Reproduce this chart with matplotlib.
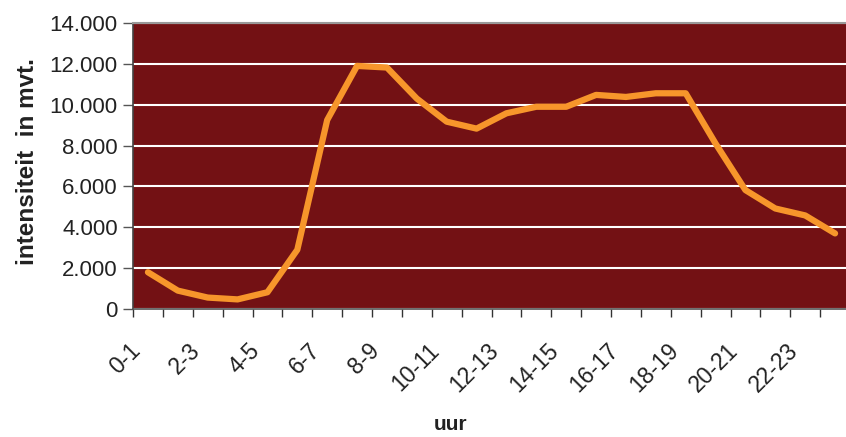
import matplotlib
matplotlib.use("Agg")
import matplotlib.pyplot as plt
from matplotlib.ticker import FuncFormatter, MultipleLocator
from matplotlib.transforms import ScaledTranslation

hours = [f"{h}-{h+1}" for h in range(24)]
values = [1800, 900, 560, 470, 820, 2900, 9250, 11900, 11820, 10300,
          9170, 8830, 9580, 9900, 9900, 10480, 10380, 10560, 10560, 8100,
          5820, 4920, 4580, 3700]
tick_labels = [hours[i] for i in range(0, 24, 2)]

plt.rcParams['font.family'] = ['Liberation Sans', 'DejaVu Sans']

fig = plt.figure(figsize=(8.46, 4.37), dpi=100)
ax = fig.add_axes([133/846, 1-309/437, 717/846, (309-23)/437])
ax.set_facecolor('#731114')

x = [i + 0.5 for i in range(24)]
ax.plot(x, values, color='#F7962B', lw=4.5, solid_capstyle='round', solid_joinstyle='round', zorder=3)

ax.set_xlim(0, 24)
ax.set_ylim(0, 14000)
ax.yaxis.set_major_locator(MultipleLocator(2000))
ax.yaxis.set_major_formatter(FuncFormatter(lambda v, p: f"{int(v):,}".replace(",", ".")))
ax.grid(axis='y', color='white', lw=1.5, zorder=1)
ax.set_axisbelow(True)

ax.set_xticks(range(25))
ax.set_xticklabels([])
ax.set_xticks([i + 0.5 for i in range(0, 24, 2)], minor=True)
ax.set_xticklabels(tick_labels, minor=True, rotation=45, ha='right', va='center',
                   rotation_mode='anchor', fontsize=16.5, color='#222222')
ax.tick_params(axis='x', which='minor', length=0, pad=38*0.72)
ax.tick_params(axis='x', which='major', length=6, width=1, color='#333333', direction='out')
ax.tick_params(axis='y', length=7, width=1, color='#555555', labelsize=16, labelcolor='#222222', pad=4)

off = ScaledTranslation(-11/100, 0, fig.dpi_scale_trans)
for lab in ax.get_xticklabels(minor=True):
    lab.set_transform(lab.get_transform() + off)

ax.spines['left'].set_color('#444444')
ax.spines['left'].set_linewidth(1.2)
ax.spines['bottom'].set_color('#555555')
ax.spines['bottom'].set_linewidth(1.2)
ax.spines['top'].set_color('#999999')
ax.spines['top'].set_linewidth(1.5)
ax.spines['right'].set_visible(False)

fig.text(28/846, 1-162/437, 'intensiteit  in mvt.', fontsize=17.5, fontweight='bold',
         color='#222222', rotation=90, ha='center', va='center')
fig.text(451/846, 1-425/437, 'uur', fontsize=15, fontweight='bold', color='#222222', ha='center', va='center')

fig.savefig('out.png', dpi=100)
